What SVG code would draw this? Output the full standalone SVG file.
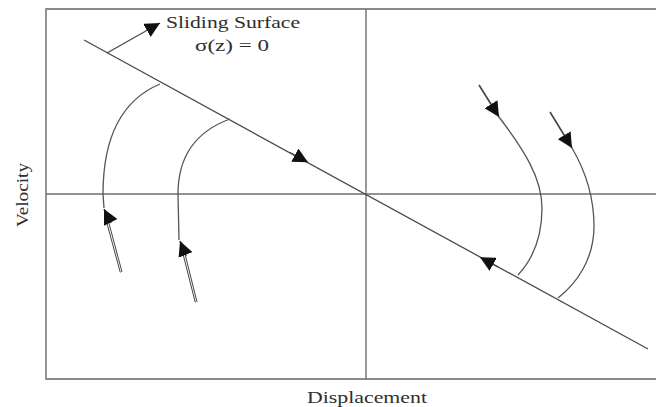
<svg xmlns="http://www.w3.org/2000/svg" width="656" height="407" viewBox="0 0 656 407">
<style>
.frame{stroke:#8a8a8a;stroke-width:1.8;fill:none}
.axis{stroke:#6e6e6e;stroke-width:1.4;fill:none}
.line{stroke:#4a4a4a;stroke-width:1.3;fill:none}
.curve{stroke:#555;stroke-width:1.3;fill:none}
.tail{stroke:#444;stroke-width:1;fill:none}
.stem{stroke:#444;stroke-width:1.6;fill:none}
.lbl{font-family:"Liberation Serif","Times New Roman",serif;font-size:17px;fill:#2e2e2e}
</style>
<defs>
<marker id="ah" viewBox="0 0 14 14" refX="14" refY="7" markerWidth="15" markerHeight="15" markerUnits="userSpaceOnUse" orient="auto">
<path d="M0,0 L14,7 L0,14 z" fill="#111"/>
</marker>
</defs>
<rect width="656" height="407" fill="#fff"/>
<g id="frame">
<path class="frame" d="M656,9 H46 V379 H656"/>
<line class="axis" x1="366" y1="9" x2="366" y2="379"/>
<line class="axis" x1="46" y1="194" x2="656" y2="194"/>
</g>
<g id="sliding-surface">
<line class="line" x1="84" y1="40" x2="648" y2="349"/>
<line class="line" x1="107" y1="53" x2="160" y2="23" marker-end="url(#ah)"/>
<text class="lbl" x="233" y="28" text-anchor="middle" textLength="134" lengthAdjust="spacingAndGlyphs">Sliding Surface</text>
<text class="lbl" x="232" y="51" text-anchor="middle" textLength="74" lengthAdjust="spacingAndGlyphs">σ(z) = 0</text>
</g>
<g id="connectors">
<line class="line" x1="290" y1="152.5" x2="308" y2="162.3" marker-end="url(#ah)"/>
<line class="line" x1="498" y1="267" x2="480" y2="257.2" marker-end="url(#ah)"/>
<path class="curve" d="M160,84 Q103,108 103,194 L104,208"/>
<line class="tail" x1="122" y1="272" x2="107" y2="216"/>
<line class="tail" x1="120.3" y1="272.5" x2="105.5" y2="218"/>
<line class="stem" x1="111" y1="223" x2="104" y2="209" marker-end="url(#ah)"/>
<path class="curve" d="M230,119 Q178,138 178,194 L179,240"/>
<line class="tail" x1="197" y1="302" x2="184" y2="250"/>
<line class="tail" x1="195.3" y1="302.5" x2="182.5" y2="252"/>
<line class="stem" x1="186" y1="256" x2="180" y2="241" marker-end="url(#ah)"/>
<line class="stem" x1="479" y1="85" x2="499" y2="117" marker-end="url(#ah)"/>
<path class="curve" d="M499,117 C524,150 542,178 542,208 C542,240 531,261 518,275"/>
<line class="stem" x1="550" y1="112" x2="572" y2="148" marker-end="url(#ah)"/>
<path class="curve" d="M572,148 C586,172 594,196 594,226 C594,260 576,284 558,298"/>
</g>
<g id="labels">
<text class="lbl" x="367" y="403" text-anchor="middle" textLength="120" lengthAdjust="spacingAndGlyphs">Displacement</text>
<text class="lbl" transform="translate(28,195) rotate(-90)" x="0" y="0" text-anchor="middle" textLength="64" lengthAdjust="spacingAndGlyphs">Velocity</text>
</g>
</svg>
